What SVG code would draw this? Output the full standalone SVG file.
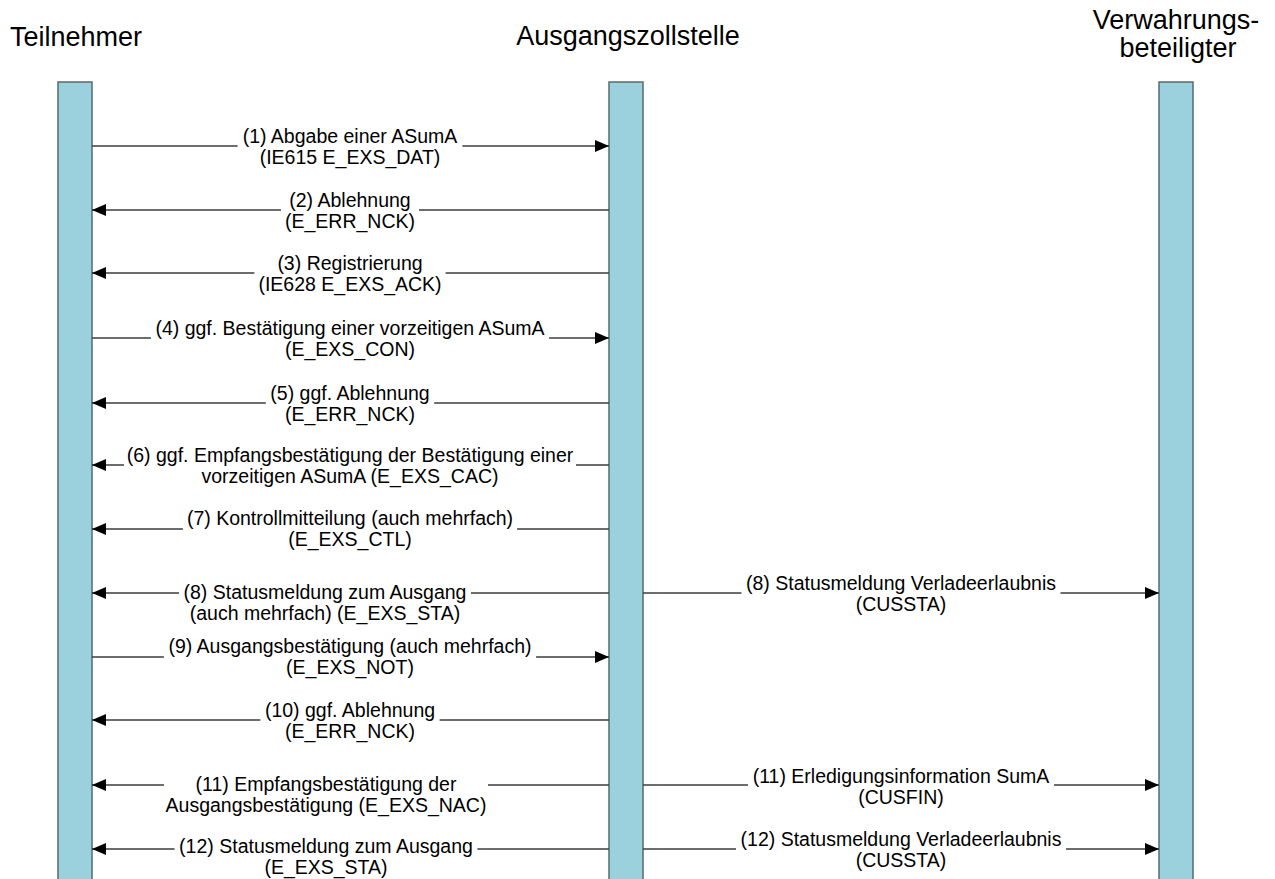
<svg xmlns="http://www.w3.org/2000/svg" width="1275" height="879" viewBox="0 0 1275 879">
<style>
.bar{fill:#9BD0DD;stroke:#566B72;stroke-width:1.5}
.hdr{font-family:"Liberation Sans",Arial,sans-serif;font-size:27px;fill:#000;text-anchor:middle}
.lbl{font-family:"Liberation Sans",Arial,sans-serif;font-size:19.5px;fill:#000;text-anchor:middle}
.msg{stroke:#3c3c3c;stroke-width:1.3;fill:none;marker-end:url(#ah)}
.bg{fill:#fff}
</style>
<defs>
<marker id="ah" markerUnits="userSpaceOnUse" markerWidth="14" markerHeight="12" refX="14" refY="6" orient="auto">
<path d="M0,0 L14,6 L0,12 Z" fill="#000"/>
</marker>
</defs>
<rect width="1275" height="879" fill="#fff"/>
<g id="teilnehmer">
<text class="hdr" x="76" y="46">Teilnehmer</text>
<rect class="bar" x="58" y="82" width="34" height="810"/>
</g>
<g id="ausgangszollstelle">
<text class="hdr" x="628" y="45">Ausgangszollstelle</text>
<rect class="bar" x="609" y="82" width="34" height="810"/>
</g>
<g id="verwahrungsbeteiligter">
<text class="hdr" x="1176" y="29">Verwahrungs-</text>
<text class="hdr" x="1178" y="57">beteiligter</text>
<rect class="bar" x="1159" y="82" width="34" height="810"/>
</g>
<g id="connectors">
<g id="m1"><line class="msg" x1="92" y1="146" x2="609" y2="146"/><rect class="bg" x="237.6" y="126" width="224.8" height="44"/><text class="lbl" x="350" y="143">(1) Abgabe einer ASumA</text><text class="lbl" x="350" y="164">(IE615 E_EXS_DAT)</text></g>
<g id="m2"><line class="msg" x1="609" y1="210" x2="92" y2="210"/><rect class="bg" x="281" y="190" width="138" height="44"/><text class="lbl" x="350" y="207">(2) Ablehnung</text><text class="lbl" x="350" y="228">(E_ERR_NCK)</text></g>
<g id="m3"><line class="msg" x1="609" y1="273" x2="92" y2="273"/><rect class="bg" x="254.4" y="253" width="191.2" height="44"/><text class="lbl" x="350" y="270">(3) Registrierung</text><text class="lbl" x="350" y="291">(IE628 E_EXS_ACK)</text></g>
<g id="m4"><line class="msg" x1="92" y1="338" x2="609" y2="338"/><rect class="bg" x="150.9" y="318" width="398.2" height="44"/><text class="lbl" x="350" y="335">(4) ggf. Bestätigung einer vorzeitigen ASumA</text><text class="lbl" x="350" y="356">(E_EXS_CON)</text></g>
<g id="m5"><line class="msg" x1="609" y1="403" x2="92" y2="403"/><rect class="bg" x="265.8" y="383" width="168.4" height="44"/><text class="lbl" x="350" y="400">(5) ggf. Ablehnung</text><text class="lbl" x="350" y="421">(E_ERR_NCK)</text></g>
<g id="m6"><line class="msg" x1="609" y1="465" x2="92" y2="465"/><rect class="bg" x="124" y="445" width="452" height="44"/><text class="lbl" x="350" y="462">(6) ggf. Empfangsbestätigung der Bestätigung einer</text><text class="lbl" x="350" y="483">vorzeitigen ASumA (E_EXS_CAC)</text></g>
<g id="m7"><line class="msg" x1="609" y1="529" x2="92" y2="529"/><rect class="bg" x="182.9" y="508" width="334.2" height="44"/><text class="lbl" x="350" y="525">(7) Kontrollmitteilung (auch mehrfach)</text><text class="lbl" x="350" y="546">(E_EXS_CTL)</text></g>
<g id="m8l"><line class="msg" x1="609" y1="593" x2="92" y2="593"/><rect class="bg" x="179" y="582" width="292" height="44"/><text class="lbl" x="325" y="599">(8) Statusmeldung zum Ausgang</text><text class="lbl" x="325" y="620">(auch mehrfach) (E_EXS_STA)</text></g>
<g id="m8r"><line class="msg" x1="643" y1="593" x2="1159" y2="593"/><rect class="bg" x="741.5" y="573" width="319" height="44"/><text class="lbl" x="901" y="590">(8) Statusmeldung Verladeerlaubnis</text><text class="lbl" x="901" y="611">(CUSSTA)</text></g>
<g id="m9"><line class="msg" x1="92" y1="657" x2="609" y2="657"/><rect class="bg" x="163.9" y="636" width="372.2" height="44"/><text class="lbl" x="350" y="653">(9) Ausgangsbestätigung (auch mehrfach)</text><text class="lbl" x="350" y="674">(E_EXS_NOT)</text></g>
<g id="m10"><line class="msg" x1="609" y1="720" x2="92" y2="720"/><rect class="bg" x="260.4" y="700" width="179.2" height="44"/><text class="lbl" x="350" y="717">(10) ggf. Ablehnung</text><text class="lbl" x="350" y="738">(E_ERR_NCK)</text></g>
<g id="m11l"><line class="msg" x1="609" y1="785" x2="92" y2="785"/><rect class="bg" x="164" y="774" width="324" height="44"/><text class="lbl" x="326" y="791">(11) Empfangsbestätigung der</text><text class="lbl" x="326" y="812">Ausgangsbestätigung (E_EXS_NAC)</text></g>
<g id="m11r"><line class="msg" x1="643" y1="785" x2="1159" y2="785"/><rect class="bg" x="748" y="766" width="306" height="44"/><text class="lbl" x="901" y="783">(11) Erledigungsinformation SumA</text><text class="lbl" x="901" y="804">(CUSFIN)</text></g>
<g id="m12l"><line class="msg" x1="609" y1="849" x2="92" y2="849"/><rect class="bg" x="174.6" y="836" width="302.8" height="43"/><text class="lbl" x="326" y="853">(12) Statusmeldung zum Ausgang</text><text class="lbl" x="326" y="874">(E_EXS_STA)</text></g>
<g id="m12r"><line class="msg" x1="643" y1="849" x2="1159" y2="849"/><rect class="bg" x="736" y="829" width="330" height="44"/><text class="lbl" x="901" y="846">(12) Statusmeldung Verladeerlaubnis</text><text class="lbl" x="901" y="867">(CUSSTA)</text></g>
</g>
</svg>
